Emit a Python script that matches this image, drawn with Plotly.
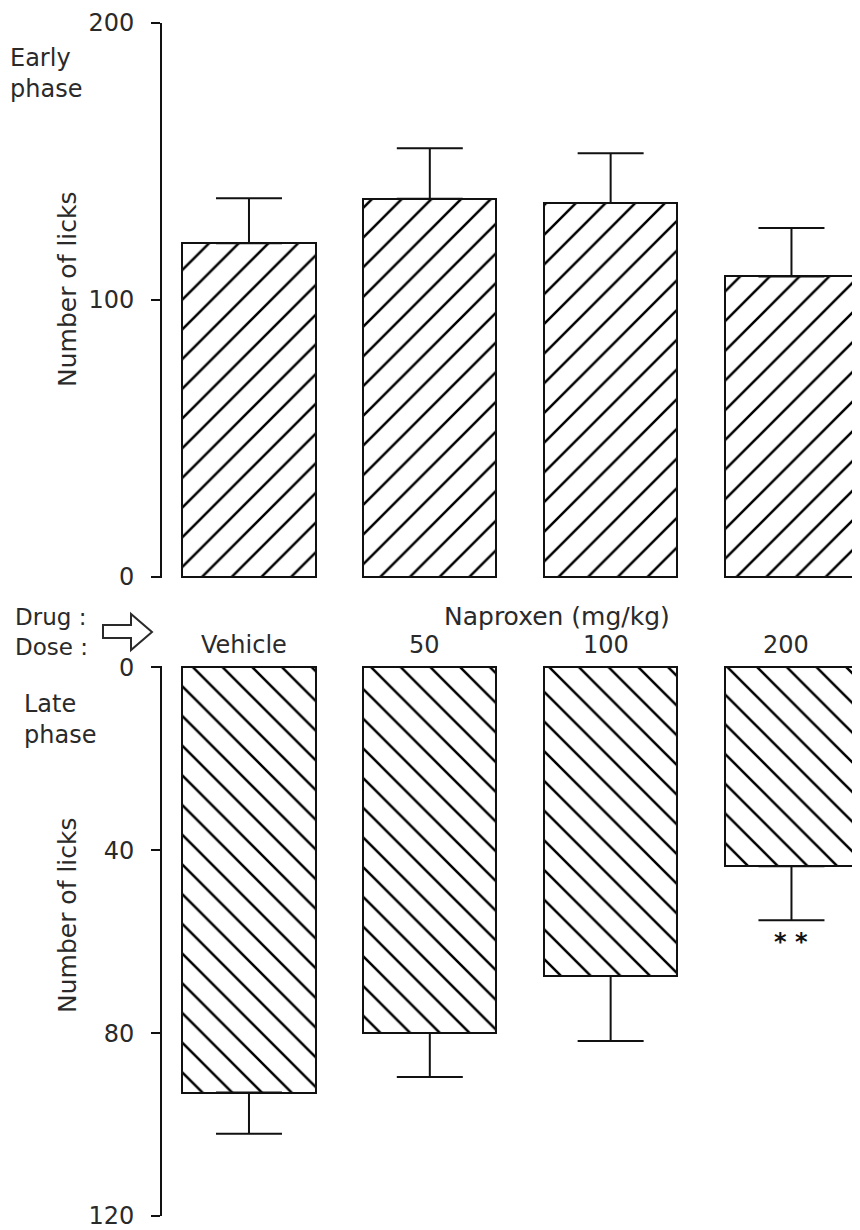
import plotly.graph_objects as go

# ---- data ----
doses = ["Vehicle", "50", "100", "200"]
early_means = [120.5, 136.5, 135.0, 108.5]
early_sem = [16.2, 18.3, 18.0, 17.5]
late_means = [93.0, 80.0, 67.5, 43.5]
late_sem = [9.0, 9.6, 14.2, 11.8]
early_ticks = [0, 100, 200]
late_ticks = [0, 40, 80, 120]

# page is 860x1230, the html body adds an 8px margin, so the figure is 852x1222
OFF = 8
W, H = 860 - OFF, 1230 - OFF
INK = "#111111"
TXT = "#2a2a2a"
FONT = "DejaVu Sans"


def px(x):
    """page x pixel -> paper fraction"""
    return (x - OFF) / W


def py(y):
    """page y pixel -> paper fraction"""
    return 1 - (y - OFF) / H


xpos = list(range(len(doses)))

fig = go.Figure()

fig.add_trace(go.Bar(
    x=xpos, y=early_means, width=0.736, xaxis="x", yaxis="y",
    marker=dict(color="white", line=dict(color=INK, width=2),
                pattern=dict(shape="/", size=21, solidity=0.12,
                             fgcolor="black", bgcolor="white", fgopacity=1)),
    error_y=dict(type="data", symmetric=False, array=early_sem,
                 arrayminus=[0] * len(early_sem), color=INK,
                 thickness=2, width=33),
    showlegend=False,
))

fig.add_trace(go.Bar(
    x=xpos, y=late_means, width=0.736, xaxis="x2", yaxis="y2",
    marker=dict(color="white", line=dict(color=INK, width=2),
                pattern=dict(shape="\\", size=21, solidity=0.12,
                             fgcolor="black", bgcolor="white", fgopacity=1)),
    error_y=dict(type="data", symmetric=False, array=late_sem,
                 arrayminus=[0] * len(late_sem), color=INK,
                 thickness=2, width=33),
    showlegend=False,
))

xr = [-0.481, 3.379]
xdom = [px(162), 1]
axis_common = dict(showline=True, linecolor=INK, linewidth=2, automargin=False,
                   ticks="outside", ticklen=9, tickwidth=2, tickcolor=INK,
                   showgrid=False, zeroline=False,
                   tickfont=dict(family=FONT, size=24, color=TXT),
                   ticklabelstandoff=12, ticklabeloverflow="allow")

fig.update_layout(
    width=W, height=H,
    margin=dict(l=0, r=0, t=0, b=0, autoexpand=False),
    paper_bgcolor="white", plot_bgcolor="white",
    bargap=0,
    xaxis=dict(domain=xdom, range=xr, visible=False, anchor="y"),
    xaxis2=dict(domain=xdom, range=xr, visible=False, anchor="y2"),
    yaxis=dict(domain=[py(578), py(23)], range=[-0.4, 200],
               tickvals=early_ticks, anchor="x", **axis_common),
    yaxis2=dict(domain=[py(1216), py(666)], range=[120, -0.3],
                tickvals=late_ticks, anchor="x2", **axis_common),
)

ann = []


def text(x, y, s, size=24, xanchor="left", yanchor="middle", angle=0, align="left"):
    ann.append(dict(x=px(x), y=py(y), xref="paper", yref="paper", text=s,
                    showarrow=False, xanchor=xanchor, yanchor=yanchor,
                    textangle=angle, align=align,
                    font=dict(family=FONT, size=size, color=TXT)))


text(8, 42, "Early<br>phase", yanchor="top")
text(22, 688, "Late<br>phase", yanchor="top")
text(67, 289, "Number of licks", size=25, xanchor="center", angle=-90)
text(67, 915, "Number of licks", size=25, xanchor="center", angle=-90)
text(13, 617, "Drug :", size=23)
text(13, 647, "Dose :", size=23)
text(557, 617, "Naproxen (mg/kg)", size=25, xanchor="center")

for i, d in enumerate(doses):
    ann.append(dict(x=i, y=py(645), xref="x", yref="paper", text=d,
                    showarrow=False, xanchor="center", yanchor="middle",
                    xshift=-5,
                    font=dict(family=FONT, size=24, color=TXT)))

# significance marker under the 200 mg/kg late-phase bar
ann.append(dict(x=3, y=late_means[3] + late_sem[3], xref="x2", yref="y2",
                text="<b>* *</b>", showarrow=False, yanchor="middle", yshift=-22,
                font=dict(family=FONT, size=24, color=INK)))

fig.update_layout(annotations=ann)

# outline arrow between "Drug/Dose" and the dose labels
pts = [(103, 625), (131, 625), (131, 614), (152, 632), (131, 650), (131, 638), (103, 638)]
path = "M " + " L ".join(f"{px(a):.5f},{py(b):.5f}" for a, b in pts) + " Z"
fig.add_shape(type="path", path=path, xref="paper", yref="paper",
              line=dict(color=TXT, width=2), fillcolor="white")

fig.write_html("out.html")
